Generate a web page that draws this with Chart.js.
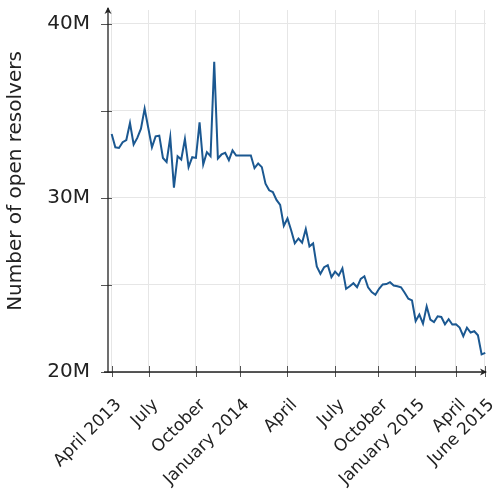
<!DOCTYPE html>
<html>
<head>
<meta charset="utf-8">
<script src="https://cdn.jsdelivr.net/npm/chart.js@4"></script>
<style>
  html, body { margin: 0; padding: 0; background: #fff; }
</style>
</head>
<body>
<canvas id="chart" width="494" height="492"></canvas>
<script>
// Open resolvers seen per scan, in millions (one entry per scan)
const resolvers = [
  33.67, 32.91, 32.87, 33.20, 33.33, 34.30, 33.07, 33.45, 33.98, 35.13,
  34.02, 32.91, 33.54, 33.58, 32.30, 32.07, 33.49, 30.59, 32.40, 32.21,
  33.39, 31.77, 32.34, 32.30, 34.34, 31.93, 32.63, 32.40, 37.83, 32.27,
  32.50, 32.59, 32.17, 32.73, 32.44, 32.44, 32.44, 32.44, 32.44, 31.71,
  31.98, 31.77, 30.82, 30.44, 30.34, 29.89, 29.60, 28.40, 28.82, 28.15,
  27.39, 27.67, 27.43, 28.21, 27.22, 27.39, 26.07, 25.64, 26.02, 26.13,
  25.45, 25.77, 25.54, 25.96, 24.78, 24.93, 25.10, 24.87, 25.35, 25.50,
  24.87, 24.59, 24.44, 24.78, 25.03, 25.05, 25.16, 24.97, 24.93, 24.87,
  24.55, 24.21, 24.11, 22.93, 23.30, 22.78, 23.77, 23.01, 22.87, 23.20,
  23.16, 22.74, 23.03, 22.73, 22.74, 22.55, 22.06, 22.55, 22.27, 22.34,
  22.11, 21.01, 21.10
];

// Month labels, placed by scan index
const monthTicks = [0, 10.1, 23.0, 35.0, 48.0, 61.0, 72.8, 82.9, 94.0, 101.8];
const monthLabels = ['April 2013', 'July', 'October', 'January 2014', 'April',
                     'July', 'October', 'January 2015', 'April', 'June 2015'];

const yTicks = [20, 25, 30, 35, 40];
const yLabels = { 20: '20M', 30: '30M', 40: '40M' };

const yTitle = 'Number of open resolvers';

const FONT = '"DejaVu Sans", sans-serif';

// axis lines with arrow heads, tick marks and the y title
const axesPlugin = {
  id: 'axes',
  beforeDatasetsDraw(chart) {
    const ctx = chart.ctx;
    const x = chart.scales.x, y = chart.scales.y;
    const area = chart.chartArea;
    const x0 = area.left, y0 = area.bottom;
    ctx.save();

    // tick marks
    ctx.strokeStyle = '#555';
    ctx.lineWidth = 1;
    ctx.beginPath();
    x.ticks.forEach(t => {
      const px = Math.round(x.getPixelForValue(t.value)) + 0.5;
      ctx.moveTo(px, y0 - 6);
      ctx.lineTo(px, y0 + 5);
    });
    y.ticks.forEach(t => {
      const py = Math.round(y.getPixelForValue(t.value)) + 0.5;
      ctx.moveTo(x0 - 7, py);
      ctx.lineTo(x0 + 4, py);
    });
    ctx.stroke();

    // axis lines
    ctx.strokeStyle = '#222';
    ctx.lineWidth = 1.3;
    ctx.beginPath();
    ctx.moveTo(x0 - 4, y0);
    ctx.lineTo(area.right, y0);
    ctx.moveTo(x0, y0);
    ctx.lineTo(x0, area.top - 2);
    ctx.stroke();

    // arrow heads
    ctx.fillStyle = '#222';
    ctx.beginPath();
    ctx.moveTo(area.right + 1, y0);
    ctx.lineTo(area.right - 6, y0 - 3.5);
    ctx.lineTo(area.right - 4, y0);
    ctx.lineTo(area.right - 6, y0 + 3.5);
    ctx.closePath();
    ctx.fill();
    ctx.beginPath();
    ctx.moveTo(x0, area.top - 3);
    ctx.lineTo(x0 - 3.5, area.top + 4);
    ctx.lineTo(x0, area.top + 2);
    ctx.lineTo(x0 + 3.5, area.top + 4);
    ctx.closePath();
    ctx.fill();

    // y axis title
    ctx.translate(16, 181);
    ctx.rotate(-Math.PI / 2);
    ctx.fillStyle = '#222';
    ctx.font = '20px ' + FONT;
    ctx.textAlign = 'center';
    ctx.textBaseline = 'middle';
    ctx.fillText(yTitle, 0, 0);
    ctx.restore();
  }
};

const chart = new Chart(document.getElementById('chart'), {
  type: 'line',
  data: {
    datasets: [{
      data: resolvers.map((v, i) => ({ x: i, y: v })),
      borderColor: '#1b5891',
      borderWidth: 2,
      pointRadius: 0,
      tension: 0,
      fill: false
    }]
  },
  options: {
    responsive: false,
    animation: false,
    layout: { padding: { left: 0, right: 8, top: 10, bottom: 0 } },
    plugins: { legend: { display: false }, tooltip: { enabled: false } },
    scales: {
      x: {
        type: 'linear',
        min: -1,
        max: 102.2,
        afterBuildTicks: s => { s.ticks = monthTicks.map(v => ({ value: v })); },
        afterFit: s => { s.height = 120; s.paddingLeft = 0; s.paddingRight = 0; },
        grid: { color: '#e6e6e6', drawTicks: false },
        border: { display: false },
        ticks: {
          autoSkip: false,
          minRotation: 45,
          maxRotation: 45,
          padding: 23,
          labelOffset: 7,
          color: '#222',
          font: { family: FONT, size: 17 },
          callback: (v, i) => monthLabels[i]
        }
      },
      y: {
        min: 20,
        max: 40.8,
        afterBuildTicks: s => { s.ticks = yTicks.map(v => ({ value: v })); },
        afterFit: s => { s.width = 108; s.paddingTop = 0; s.paddingBottom = 0; },
        grid: { color: '#e6e6e6', drawTicks: false },
        border: { display: false },
        ticks: {
          padding: 18,
          color: '#222',
          font: { family: FONT, size: 20 },
          callback: v => yLabels[v] || ''
        }
      }
    }
  },
  plugins: [axesPlugin]
});
</script>
</body>
</html>
